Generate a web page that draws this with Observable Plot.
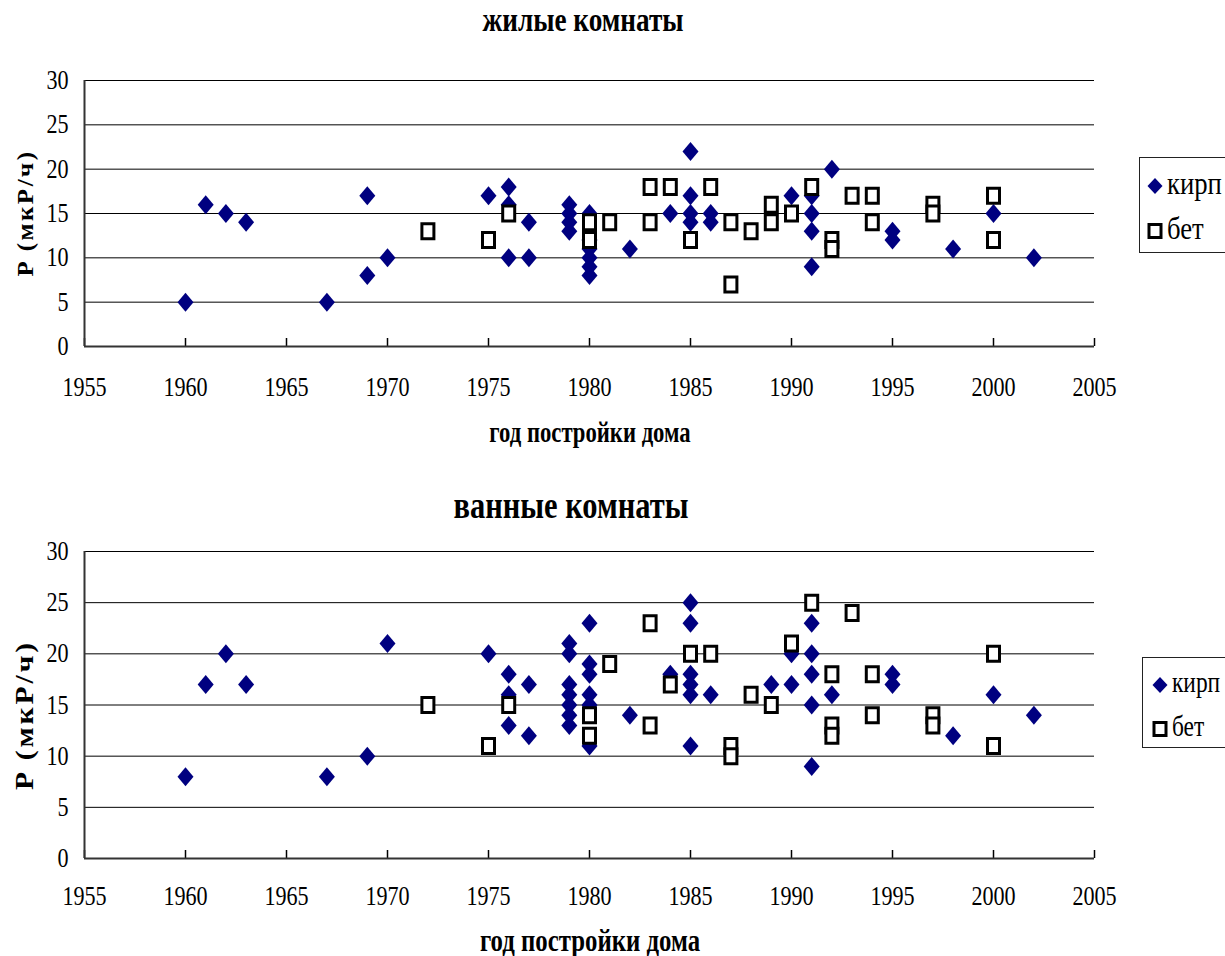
<!DOCTYPE html>
<html>
<head>
<meta charset="utf-8">
<script src="https://cdn.jsdelivr.net/npm/d3@7"></script>
<script src="https://cdn.jsdelivr.net/npm/@observablehq/plot@0.6"></script>
<style>
  body { margin: 0; background: #fff; }
  #page { position: relative; width: 1225px; height: 956px; overflow: hidden; background: #fff;
          font-family: "Liberation Serif", "Times New Roman", serif; color: #000; }
  .abs { position: absolute; white-space: nowrap; line-height: 1; }
  .legend { position: absolute; border: 1px solid #222; background: #fff; box-sizing: border-box; }
</style>
</head>
<body>
<div id="page"></div>
<script>
// ---------------- data ----------------
const titles = ["жилые комнаты", "ванные комнаты"];
const xLabel = "год постройки дома";
const yLabel = "P (мкР/ч)";
const seriesNames = ["кирп", "бет"];
const xTicks = [1955, 1960, 1965, 1970, 1975, 1980, 1985, 1990, 1995, 2000, 2005];
const yTicks = [0, 5, 10, 15, 20, 25, 30];

// жилые комнаты — кирп (brick)
const livingBrick = [
  [1960,5],[1961,16],[1962,15],[1963,14],[1967,5],[1969,17],[1969,8],[1970,10],
  [1975,17],[1976,18],[1976,16],[1976,10],[1977,14],[1977,10],
  [1979,16],[1979,15],[1979,14],[1979,13],
  [1980,15],[1980,12],[1980,11],[1980,10],[1980,9],[1980,8],
  [1982,11],[1984,15],[1985,22],[1985,17],[1985,15],[1985,14],[1986,15],[1986,14],
  [1990,17],[1991,17],[1991,15],[1991,13],[1991,9],[1992,20],[1995,13],[1995,12],
  [1998,11],[2000,15],[2002,10]
];
// жилые комнаты — бет (concrete)
const livingConcrete = [
  [1972,13],[1975,12],[1976,15],[1980,14],[1980,12],[1981,14],[1983,18],[1983,14],
  [1984,18],[1985,12],[1986,18],[1987,14],[1987,7],[1988,13],[1989,16],[1989,14],
  [1990,15],[1991,18],[1992,12],[1992,11],[1993,17],[1994,17],[1994,14],
  [1997,16],[1997,15],[2000,17],[2000,12]
];
// ванные комнаты — кирп
const bathBrick = [
  [1960,8],[1961,17],[1962,20],[1963,17],[1967,8],[1969,10],[1970,21],
  [1975,20],[1976,18],[1976,16],[1976,13],[1977,17],[1977,12],
  [1979,21],[1979,20],[1979,17],[1979,16],[1979,15],[1979,14],[1979,13],
  [1980,23],[1980,19],[1980,18],[1980,16],[1980,15],[1980,11],
  [1982,14],[1984,18],[1985,25],[1985,23],[1985,18],[1985,17],[1985,16],[1985,11],
  [1986,16],[1989,17],[1990,20],[1990,17],[1991,23],[1991,20],[1991,18],[1991,15],[1991,9],
  [1992,16],[1995,18],[1995,17],[1998,12],[2000,16],[2002,14]
];
// ванные комнаты — бет
const bathConcrete = [
  [1972,15],[1975,11],[1976,15],[1980,14],[1980,12],[1981,19],[1983,23],[1983,13],
  [1984,17],[1985,20],[1986,20],[1987,11],[1987,10],[1988,16],[1989,15],[1990,21],
  [1991,25],[1992,18],[1992,13],[1992,12],[1993,24],[1994,18],[1994,14],
  [1997,14],[1997,13],[2000,20],[2000,11]
];

// ---------------- drawing ----------------
const FONT = '"Liberation Serif","Times New Roman",serif';
const NAVY = "#000080";
const COND = 0.82; // horizontal condensing of the reference's lettering

const diamondSym = { draw(ctx) { const w = 8, h = 9.5;
  ctx.moveTo(0, -h); ctx.lineTo(w, 0); ctx.lineTo(0, h); ctx.lineTo(-w, 0); ctx.closePath(); } };
const squareSym = { draw(ctx) { const w = 6, h = 7.5; ctx.rect(-w, -h, 2 * w, 2 * h); } };

function condense(svg, k) {
  svg.querySelectorAll("text").forEach(t => {
    const x = +t.getAttribute("x") || 0;
    const base = t.getAttribute("transform") || "";
    t.setAttribute("transform", `${base} translate(${x},0) scale(${k},1) translate(${-x},0)`);
  });
}

function chart(brick, concrete, height, mt, mb, labelOffset) {
  const svg = Plot.plot({
    width: 1225, height, marginTop: mt, marginBottom: mb, marginLeft: 84, marginRight: 131,
    x: { domain: [1955, 2005] },
    y: { domain: [0, 30] },
    style: { fontFamily: FONT, background: "transparent", overflow: "visible" },
    marks: [
      Plot.ruleY(yTicks.filter(v => v > 0), { stroke: "#000", strokeWidth: 1 }),
      Plot.axisY(yTicks, { tickSize: 0, tickPadding: 16, fontSize: 27, label: null }),
      Plot.axisX(xTicks, { tickSize: -8, tickPadding: labelOffset + 8, fontSize: 27, label: null,
                           tickFormat: d => String(d), strokeWidth: 1.5 }),
      Plot.ruleY([0], { stroke: "#333", strokeWidth: 2 }),
      Plot.ruleX([1955], { stroke: "#333", strokeWidth: 2 }),
      Plot.dot(brick, { x: d => d[0], y: d => d[1], symbol: diamondSym, fill: NAVY, stroke: "none" }),
      Plot.dot(concrete, { x: d => d[0], y: d => d[1], symbol: squareSym, fill: "#fff",
                           stroke: "#000", strokeWidth: 3 })
    ]
  });
  condense(svg, COND);
  return svg;
}

const page = document.getElementById("page");

function addSvg(svg, top) {
  svg.style.position = "absolute";
  svg.style.left = "0px";
  svg.style.top = top + "px";
  page.appendChild(svg);
}

// centred text scaled to a target width
function label(text, cx, cy, size, width, opts = {}) {
  const d = document.createElement("div");
  d.className = "abs";
  d.textContent = text;
  d.style.fontSize = size + "px";
  d.style.fontWeight = opts.bold === false ? "normal" : "bold";
  if (opts.spacing) d.style.letterSpacing = opts.spacing;
  page.appendChild(d);
  const w = d.offsetWidth;
  const k = width / w;
  d.style.left = cx + "px";
  d.style.top = cy + "px";
  d.style.transform = `translate(-50%,-50%) ${opts.rotate ? "rotate(-90deg)" : ""} scale(${k},1)`;
  return d;
}

function legend(left, top, height, y1, y2, mx, fs, sx) {
  const box = document.createElement("div");
  box.className = "legend";
  box.style.left = left + "px";
  box.style.top = top + "px";
  box.style.width = "110px";
  box.style.height = height + "px";
  page.appendChild(box);
  const ns = "http://www.w3.org/2000/svg";
  const s = document.createElementNS(ns, "svg");
  s.setAttribute("width", 1225); s.setAttribute("height", 956);
  s.style.position = "absolute"; s.style.left = "0px"; s.style.top = "0px"; s.style.overflow = "visible";
  s.style.pointerEvents = "none";
  const dmd = document.createElementNS(ns, "path");
  dmd.setAttribute("d", `M${mx},${y1 - 8}L${mx + 7.5},${y1}L${mx},${y1 + 8}L${mx - 7.5},${y1}Z`);
  dmd.setAttribute("fill", NAVY);
  s.appendChild(dmd);
  const sq = document.createElementNS(ns, "rect");
  sq.setAttribute("x", mx - 6); sq.setAttribute("y", y2 - 6.5);
  sq.setAttribute("width", 12); sq.setAttribute("height", 13);
  sq.setAttribute("fill", "#fff"); sq.setAttribute("stroke", "#000"); sq.setAttribute("stroke-width", 3);
  s.appendChild(sq);
  page.appendChild(s);
  [[seriesNames[0], y1], [seriesNames[1], y2]].forEach(([t, y]) => {
    const d = document.createElement("div");
    d.className = "abs";
    d.textContent = t;
    d.style.fontSize = fs + "px";
    d.style.left = (mx + 12) + "px";
    d.style.top = (y - 3) + "px";
    d.style.transformOrigin = "left center";
    d.style.transform = `translateY(-50%) scale(${sx},1)`;
    page.appendChild(d);
  });
}

// top chart: living rooms
addSvg(chart(livingBrick, livingConcrete, 470, 80, 124, 30), 0);
// bottom chart: bathrooms
addSvg(chart(bathBrick, bathConcrete, 486, 81, 98, 27), 470);

label(titles[0], 583, 20, 34, 201);
label(xLabel, 590, 432, 29, 201);
label(yLabel, 25, 213, 24, 127, { rotate: true, spacing: "0.1em" });
legend(1139, 157, 96, 186, 231, 1155, 31, 0.86);

label(titles[1], 571, 505, 38, 235);
label(xLabel, 590, 940, 31, 220);
label(yLabel, 25, 715, 26, 150, { rotate: true, spacing: "0.1em" });
legend(1142, 657, 91, 685, 729, 1160, 30, 0.78);
</script>
</body>
</html>
